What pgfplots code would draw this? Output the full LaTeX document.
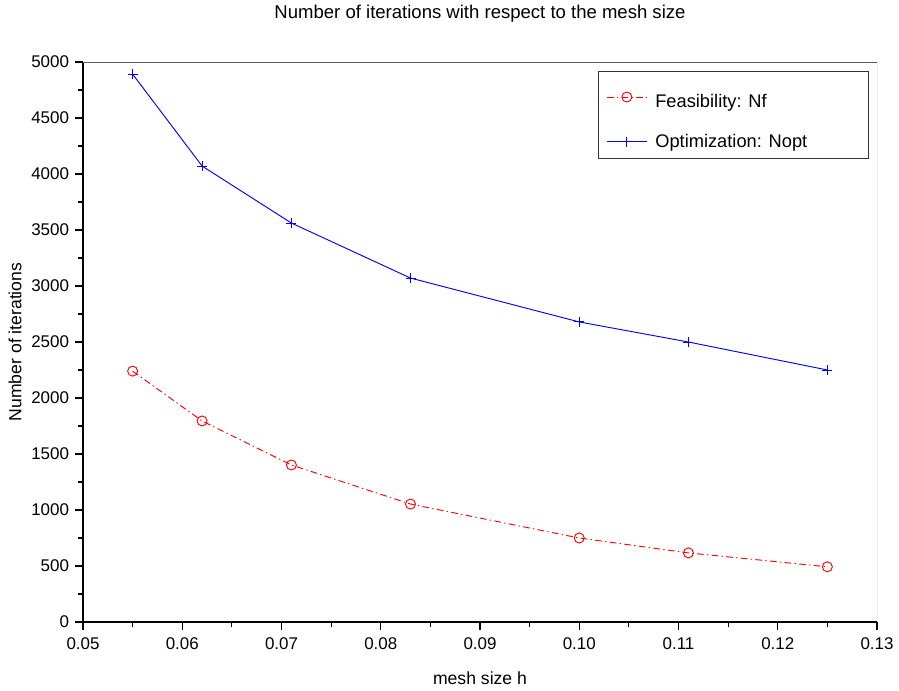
\documentclass[border=0pt]{standalone}
\usepackage{fontspec}
\setmainfont{Liberation Sans}
\usepackage{pgfplots}
\pgfplotsset{compat=1.18}
\begin{document}
\begin{tikzpicture}[x=0.75pt,y=0.75pt]
\useasboundingbox (-83,-68) rectangle (816,622);
\begin{axis}[
  at={(0,0)}, anchor=south west,
  scale only axis, width=595.5pt, height=420pt,
  xmin=0.05, xmax=0.13, ymin=0, ymax=5000,
  axis x line*=bottom, axis y line*=left,
  axis line style={line width=1.2pt, black, -},
  xtick={0.05,0.06,...,0.13}, ytick={0,500,...,5000},
  minor tick num=1,
  tick align=outside,
  major tick length=6pt, minor tick length=4pt,
  every tick/.style={black, line width=0.9pt},
  /pgf/number format/assume math mode=true,
  /pgf/number format/1000 sep={},
  xticklabel style={/pgf/number format/fixed, /pgf/number format/fixed zerofill, /pgf/number format/precision=2, yshift=-2pt},
  yticklabel style={xshift=-1pt},
  tick label style={font=\fontsize{12.7}{14}\selectfont},
  label style={font=\fontsize{13.2}{15}\selectfont},
  every axis title shift=0pt,
  title style={font=\fontsize{13.9}{16}\selectfont, at={(axis description cs:0.5,1.0857)}, anchor=center},
  xlabel style={at={(axis description cs:0.5,-0.1)}, anchor=center},
  ylabel style={at={(axis description cs:-0.0856,0.5)}, anchor=center},
  title={Number of iterations with respect to the mesh size},
  xlabel={mesh size h},
  ylabel={Number of iterations},
  legend style={at={(axis description cs:0.99,0.984)}, anchor=north east,
    draw=black!80, line width=0.6pt, font=\fontsize{13.7}{16}\selectfont,
    row sep=11.25pt, inner xsep=6pt, inner ysep=4.75pt},
  legend cell align=left,
  legend image code/.code={\draw[mark repeat=2,mark phase=2] plot coordinates {(0cm,0cm)(15pt,0cm)(30pt,0cm)};},
]
\draw[gray!70!black, line width=0.6pt] (rel axis cs:0,1) -- (rel axis cs:1,1) -- (rel axis cs:1,0);
\addplot[red, line width=0.7pt, dash pattern=on 5pt off 2.5pt on 1pt off 2.5pt, mark=o, mark size=3.75pt, mark options={solid, line width=0.7pt}]
coordinates {(0.055,2240) (0.062,1795) (0.071,1402) (0.083,1053) (0.100,750) (0.111,617) (0.125,493)};
\addlegendentry{\makebox[156pt][l]{\hspace*{4pt}\rule[-2.9pt]{0pt}{26.4pt}\raisebox{3pt}{Feasibility: Nf}}}
\addplot[blue, line width=0.7pt, mark=+, mark size=3.75pt, mark options={solid, line width=0.7pt}]
coordinates {(0.055,4892) (0.062,4071) (0.071,3562) (0.083,3071) (0.100,2679) (0.111,2500) (0.125,2250)};
\addlegendentry{\makebox[156pt][l]{\hspace*{4pt}Optimization: Nopt}}
\end{axis}
\end{tikzpicture}
\end{document}
